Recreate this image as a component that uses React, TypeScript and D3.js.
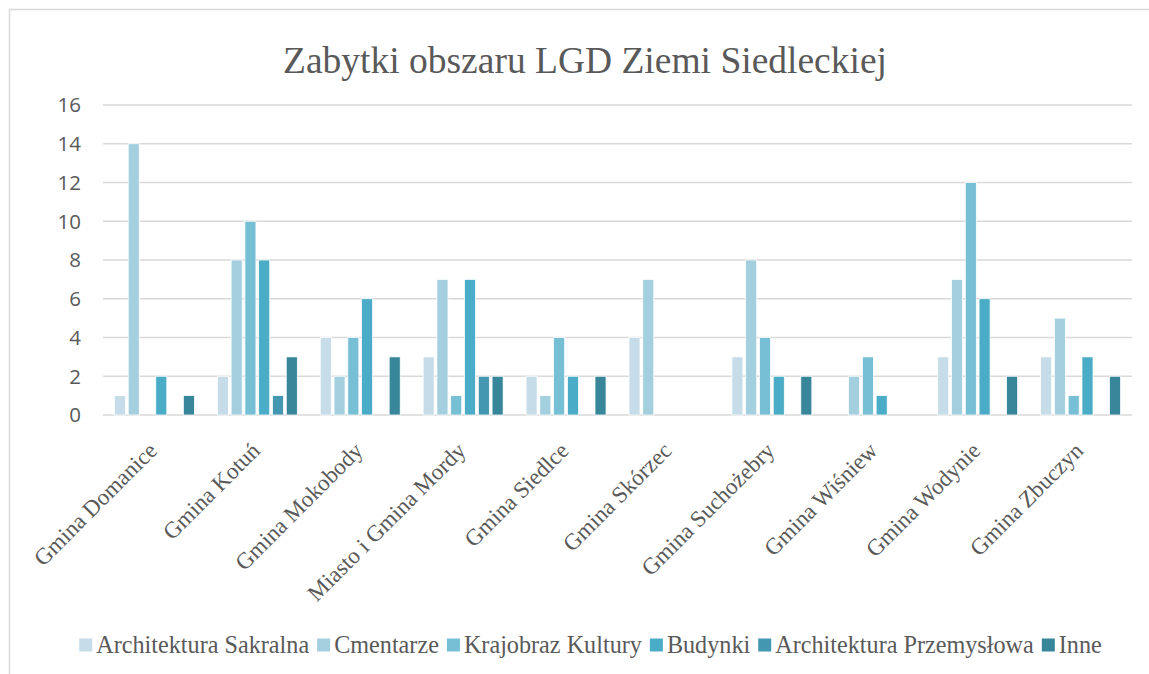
import React, { useEffect, useRef } from 'react';
import * as d3 from 'd3';

const categories = [
  'Gmina Domanice',
  'Gmina Kotuń',
  'Gmina Mokobody',
  'Miasto i Gmina Mordy',
  'Gmina Siedlce',
  'Gmina Skórzec',
  'Gmina Suchożebry',
  'Gmina Wiśniew',
  'Gmina Wodynie',
  'Gmina Zbuczyn',
];

const seriesNames = [
  'Architektura Sakralna',
  'Cmentarze',
  'Krajobraz Kultury',
  'Budynki',
  'Architektura Przemysłowa',
  'Inne',
];

// one array per series, in category order
const sakralna = [1, 2, 4, 3, 2, 4, 3, 0, 3, 3];
const cmentarze = [14, 8, 2, 7, 1, 7, 8, 2, 7, 5];
const krajobraz = [0, 10, 4, 1, 4, 0, 4, 3, 12, 1];
const budynki = [2, 8, 6, 7, 2, 0, 2, 1, 6, 3];
const przemyslowa = [0, 1, 0, 2, 0, 0, 0, 0, 0, 0];
const inne = [1, 3, 3, 2, 2, 0, 2, 0, 2, 2];

const yTicks = [0, 2, 4, 6, 8, 10, 12, 14, 16];

const colors = ['#c6dde9', '#a3cfdf', '#77bfd5', '#4aacc6', '#4397b1', '#37869a'];

const W = 1149;
const H = 674;

const App = () => {
  const ref = useRef<SVGSVGElement>(null);

  useEffect(() => {
    document.body.style.margin = '0';
    const values = [sakralna, cmentarze, krajobraz, budynki, przemyslowa, inne];
    const svg = d3.select(ref.current);
    svg.selectAll('*').remove();

    // chart frame (runs off the right and bottom of the page)
    svg.append('rect')
      .attr('x', 9.5).attr('y', 9.5)
      .attr('width', W + 20).attr('height', H + 20)
      .attr('fill', 'white')
      .attr('stroke', '#d9d9d9')
      .attr('stroke-width', 1.5);

    svg.append('text')
      .attr('x', 585).attr('y', 73)
      .attr('text-anchor', 'middle')
      .style('font-family', '"Liberation Serif", serif')
      .style('font-size', '37.5px')
      .style('fill', '#595959')
      .text('Zabytki obszaru LGD Ziemi Siedleckiej');

    const x0 = d3.scaleBand().domain(categories).range([103, 1132])
      .paddingInner(0.223).paddingOuter(0.111);
    const x1 = d3.scaleBand().domain(seriesNames).range([0, x0.bandwidth()])
      .paddingInner(0.2);
    const y = d3.scaleLinear().domain([0, 16]).range([415, 105]);

    const grid = svg.append('g');
    grid.selectAll('line').data(yTicks).enter().append('line')
      .attr('x1', 103).attr('x2', 1132)
      .attr('y1', (d) => y(d)).attr('y2', (d) => y(d))
      .attr('stroke', '#d9d9d9')
      .attr('stroke-width', 1.5);

    grid.selectAll('text').data(yTicks).enter().append('text')
      .attr('x', 81).attr('y', (d) => y(d))
      .attr('text-anchor', 'end')
      .attr('dy', '0.36em')
      .style('font-family', '"Open Sans", sans-serif')
      .style('font-size', '20.5px')
      .style('fill', '#595959')
      .text((d) => d);

    const groups = svg.append('g').selectAll('g').data(categories).enter().append('g')
      .attr('transform', (d) => `translate(${x0(d)},0)`);

    groups.selectAll('rect')
      .data((d, i) => seriesNames.map((s, j) => ({ s, j, v: values[j][i] })))
      .enter().append('rect')
      .filter((d) => d.v > 0)
      .attr('x', (d) => x1(d.s))
      .attr('y', (d) => y(d.v))
      .attr('width', x1.bandwidth())
      .attr('height', (d) => y(0) - y(d.v))
      .attr('fill', (d) => colors[d.j])
      .attr('stroke', 'white')
      .attr('stroke-width', 0.75);

    svg.append('g').selectAll('text').data(categories).enter().append('text')
      .attr('transform', (d) => `translate(${x0(d) + x0.bandwidth() / 2 + 4},452) rotate(-45)`)
      .attr('text-anchor', 'end')
      .style('font-family', '"Liberation Serif", serif')
      .style('font-size', '23px')
      .style('fill', '#595959')
      .text((d) => d);

    // legend, measured then centred
    const legend = svg.append('g');
    const items = legend.selectAll('g').data(seriesNames).enter().append('g');
    items.append('rect')
      .attr('width', 13).attr('height', 13)
      .attr('y', -6.5)
      .attr('fill', (d, i) => colors[i]);
    items.append('text')
      .attr('x', 17).attr('dy', '0.33em')
      .style('font-family', '"Liberation Serif", serif')
      .style('font-size', '24.2px')
      .style('fill', '#595959')
      .text((d) => d);
    let pos = 0;
    const offsets: number[] = [];
    items.each(function () {
      const t = (this as SVGGElement).querySelector('text') as SVGTextElement;
      offsets.push(pos);
      pos += 17 + t.getComputedTextLength() + 8;
    });
    const total = pos - 8;
    const startX = 590.5 - total / 2;
    items.attr('transform', (d, i) => `translate(${startX + offsets[i]},645)`);
  }, []);

  return (
    <svg ref={ref} width={W} height={H} style={{ display: 'block' }} />
  );
};

export default App;
